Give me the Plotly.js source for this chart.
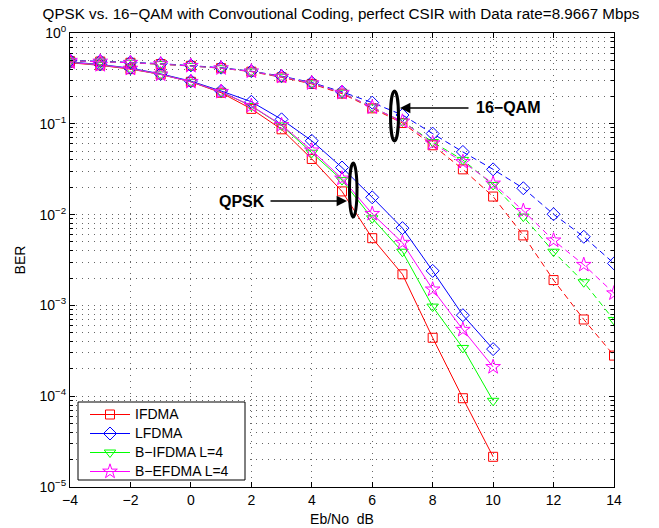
<!DOCTYPE html>
<html>
<head>
<meta charset="utf-8">
<script src="https://cdn.plot.ly/plotly-3.0.1.min.js"></script>
<style>html,body{margin:0;padding:0;background:#fff}#chart{width:659px;height:528px}</style>
</head>
<body>
<div id="chart"></div>
<script>
// ---- data ----
const ebnoQPSK = [-4,-3,-2,-1,0,1,2,3,4,5,6,7,8,9,10];
const ebno16QAM = [-4,-3,-2,-1,0,1,2,3,4,5,6,7,8,9,10,11,12,13,14];
const seriesNames = ['IFDMA','LFDMA','B\u2212IFDMA L=4','B\u2212EFDMA L=4'];

const qpskIFDMA  = [0.47,0.44,0.40,0.35,0.29,0.22,0.146,0.087,0.041,0.018,0.0055,0.0022,0.00044,0.000095,0.0000215];
const qpskLFDMA  = [0.48,0.45,0.41,0.355,0.295,0.23,0.175,0.112,0.065,0.033,0.0155,0.0071,0.0024,0.00078,0.00033];
const qpskBIFDMA = [0.475,0.445,0.405,0.35,0.29,0.225,0.157,0.096,0.048,0.024,0.0091,0.0039,0.00097,0.00034,0.000089];
const qpskBEFDMA = [0.475,0.445,0.405,0.35,0.29,0.225,0.158,0.097,0.051,0.025,0.0102,0.0049,0.0015,0.00054,0.00021];

const qamIFDMA  = [0.49,0.485,0.47,0.455,0.435,0.41,0.375,0.325,0.275,0.215,0.148,0.102,0.058,0.0315,0.0158,0.0059,0.0019,0.0007,0.00028];
const qamLFDMA  = [0.50,0.49,0.475,0.46,0.44,0.415,0.38,0.335,0.285,0.225,0.171,0.125,0.078,0.049,0.0315,0.0195,0.0101,0.0057,0.0029];
const qamBIFDMA = [0.495,0.485,0.47,0.455,0.435,0.41,0.378,0.33,0.28,0.22,0.152,0.106,0.063,0.040,0.0212,0.0095,0.0039,0.0018,0.00069];
const qamBEFDMA = [0.495,0.485,0.47,0.455,0.435,0.41,0.378,0.33,0.28,0.22,0.152,0.106,0.061,0.038,0.022,0.011,0.0052,0.0028,0.00136];

const yTickVals = [1e-5,1e-4,1e-3,1e-2,1e-1,1];
const yTickText = ['10<sup>\u22125</sup>','10<sup>\u22124</sup>','10<sup>\u22123</sup>','10<sup>\u22122</sup>','10<sup>\u22121</sup>','10<sup>0</sup>'];
const xTickVals = [-4,-2,0,2,4,6,8,10,12,14];

// ---- styles ----
const colors = ['#ff0000','#0000ff','#00ff00','#ff00ff'];
const symbols = ['square-open','diamond-open','triangle-down-open','star-open'];
const msizes = [9,10,10,11];

const qpsk = [qpskIFDMA,qpskLFDMA,qpskBIFDMA,qpskBEFDMA];
const qam = [qamIFDMA,qamLFDMA,qamBIFDMA,qamBEFDMA];

const traces = [];
for (let i=0;i<4;i++){
  traces.push({x:ebnoQPSK,y:qpsk[i],type:'scatter',mode:'lines+markers',
    name:'<span style="font-size:14px">'+seriesNames[i]+'</span>',
    line:{color:colors[i],width:1},marker:{symbol:symbols[i],size:msizes[i],color:colors[i],line:{color:colors[i],width:1}}});
}
for (let i=0;i<4;i++){
  traces.push({x:ebno16QAM,y:qam[i],type:'scatter',mode:'lines+markers',name:seriesNames[i],showlegend:false,
    line:{color:colors[i],width:1,dash:'6px,4px'},marker:{symbol:symbols[i],size:msizes[i],color:colors[i],line:{color:colors[i],width:1}}});
}

const minorVals = [];
for (let e=-5;e<0;e++){ for (let m=2;m<=9;m++){ minorVals.push(m*Math.pow(10,e)); } }

const gridDash = '1px,5px';
const gridColor = '#666';

const px = v => (v-70)/544;
const py = v => (487-v)/454;

const layout = {
  width:659,height:528,
  margin:{l:70,r:45,t:33,b:41},
  paper_bgcolor:'#fff',plot_bgcolor:'#fff',
  font:{family:'Liberation Sans, Arial, sans-serif',size:14,color:'#000'},
  showlegend:true,
  title:{text:'QPSK vs. 16\u2212QAM with Convoutional Coding, perfect CSIR with Data rate=8.9667 Mbps',
    font:{size:15.2,color:'#000'},x:0.5175,xanchor:'center',y:0.975,yanchor:'middle'},
  xaxis:{range:[-4,14],tickmode:'array',tickvals:xTickVals,ticktext:xTickVals.map(v=>v<0?'\u2212'+Math.abs(v):String(v)),
    ticks:'inside',ticklen:5,tickcolor:'#000',showline:true,linecolor:'#000',linewidth:1,mirror:'ticks',
    showgrid:true,gridcolor:gridColor,griddash:gridDash,gridwidth:1,zeroline:false,
    title:{text:'Eb/No  dB',font:{size:14},standoff:7},tickfont:{size:14}},
  yaxis:{type:'log',range:[-5,0],tickmode:'array',tickvals:yTickVals,ticktext:yTickText,
    ticks:'inside',ticklen:5,tickcolor:'#000',showline:true,linecolor:'#000',linewidth:1,mirror:'ticks',
    showgrid:true,gridcolor:gridColor,griddash:gridDash,gridwidth:1,zeroline:false,
    minor:{tickmode:'array',tickvals:minorVals,ticks:'inside',ticklen:3,tickcolor:'#000',showgrid:true,gridcolor:gridColor,griddash:gridDash,gridwidth:1},
    title:{text:'BER',font:{size:14},standoff:10},tickfont:{size:14}},
  legend:{x:px(85),y:py(400),xanchor:'left',yanchor:'top',bgcolor:'rgba(0,0,0,0)',borderwidth:0,
    font:{size:11},tracegroupgap:0,itemwidth:40},
  shapes:[
    {type:'rect',xref:'paper',yref:'paper',x0:px(78),x1:px(245),y0:py(480),y1:py(402),fillcolor:'#fff',line:{color:'#000',width:1},layer:'above'},
    {type:'circle',xref:'paper',yref:'paper',x0:px(349.5),x1:px(357),y0:py(217),y1:py(163),line:{color:'#000',width:3}},
    {type:'circle',xref:'paper',yref:'paper',x0:px(390.5),x1:px(398.5),y0:py(141),y1:py(91),line:{color:'#000',width:3}}
  ],
  annotations:[
    {xref:'paper',yref:'paper',x:px(347),y:py(201),ax:-78,ay:0,text:'',showarrow:true,arrowhead:2,arrowsize:1.6,arrowwidth:1.3,arrowcolor:'#000'},
    {xref:'paper',yref:'paper',x:px(242),y:py(201),text:'<b>QPSK</b>',showarrow:false,font:{size:16,color:'#000'},xanchor:'center',yanchor:'middle'},
    {xref:'paper',yref:'paper',x:px(400),y:py(108),ax:70,ay:0,text:'',showarrow:true,arrowhead:2,arrowsize:1.6,arrowwidth:1.3,arrowcolor:'#000'},
    {xref:'paper',yref:'paper',x:px(508),y:py(108),text:'<b>16\u2212QAM</b>',showarrow:false,font:{size:16,color:'#000'},xanchor:'center',yanchor:'middle'}
  ]
};

Plotly.newPlot('chart',traces,layout,{displayModeBar:false,staticPlot:true});
</script>
</body>
</html>
